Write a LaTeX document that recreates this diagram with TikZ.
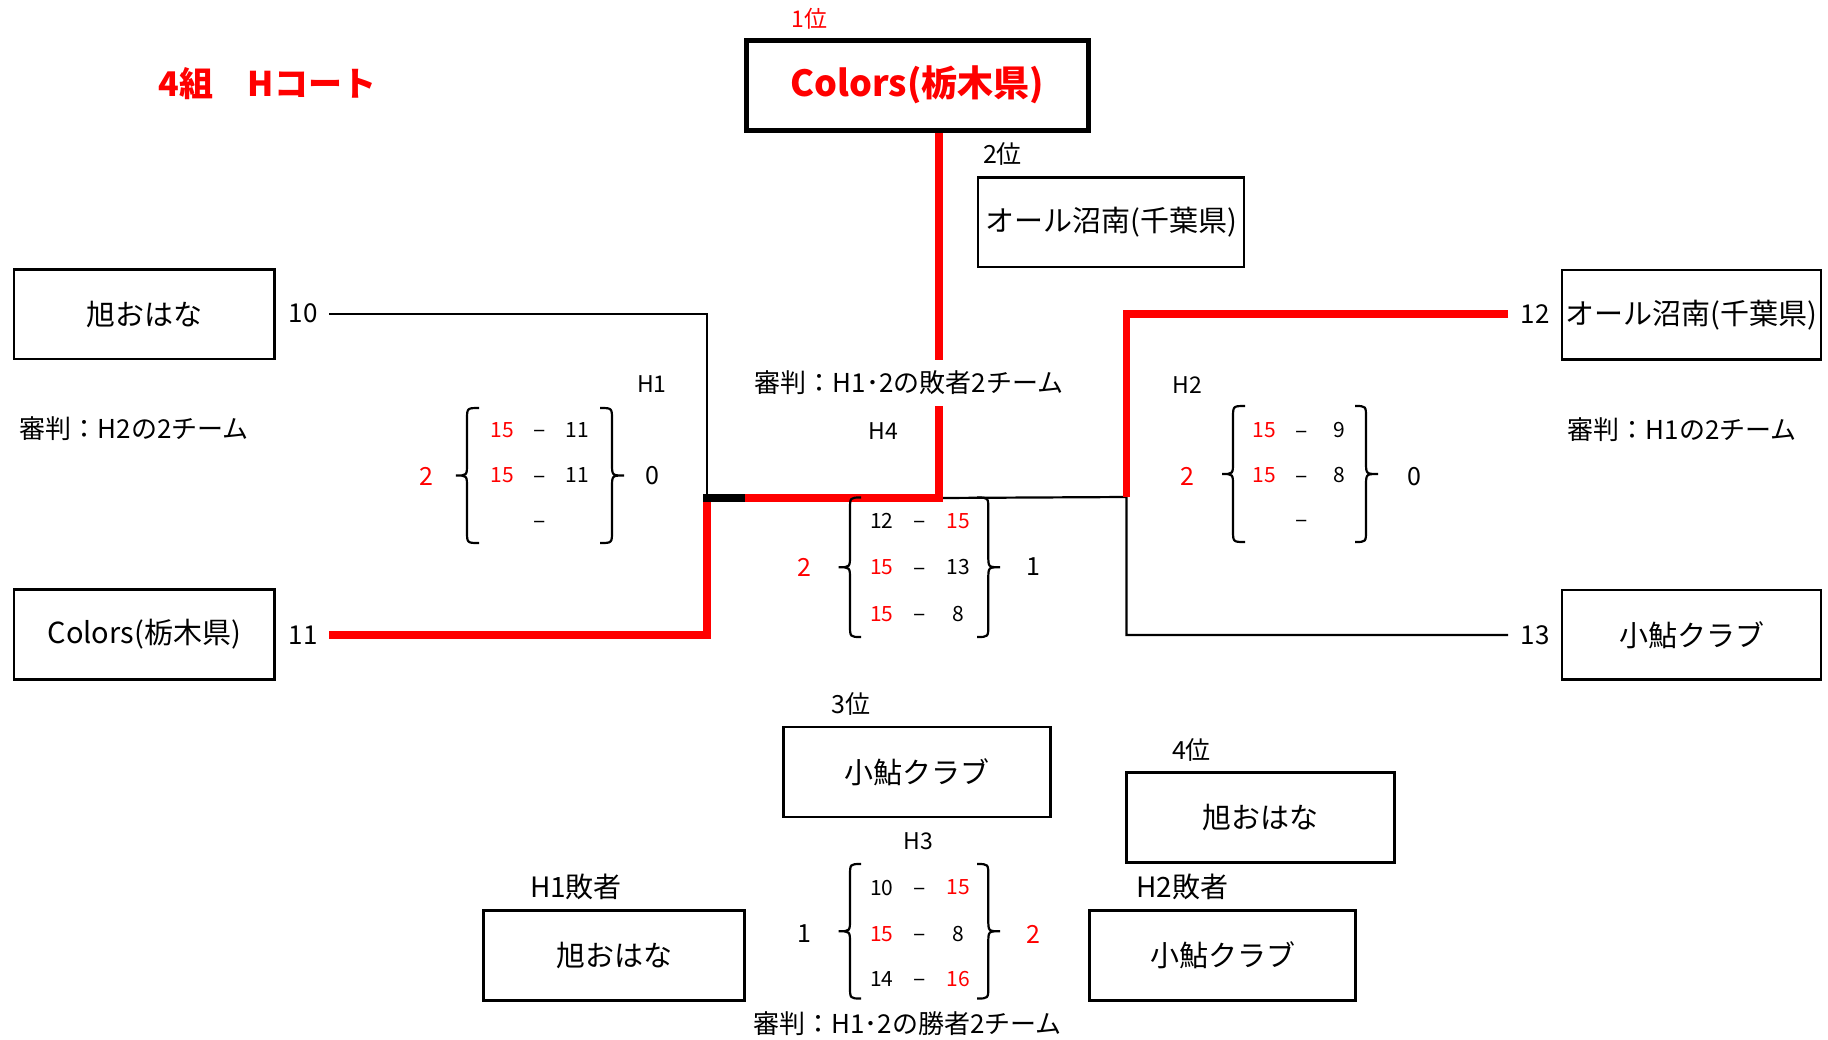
\documentclass[tikz,border=0pt]{standalone}
\usepackage{fontspec}
\setmainfont{Noto Sans CJK JP}
\newcommand\myFs[1]{\fontsize{#1}{#1}\selectfont}
\newcommand\myBrace[5]{%
  \draw[brc] (#3,#4) .. controls (#2,#4) .. (#2,{#4+12})
    -- (#2,{(#4+#5)/2-12}) .. controls (#2,{(#4+#5)/2}) .. (#1,{(#4+#5)/2})
    .. controls (#2,{(#4+#5)/2}) .. (#2,{(#4+#5)/2+12})
    -- (#2,{#5-12}) .. controls (#2,#5) .. (#3,#5);}
\begin{document}
\begin{tikzpicture}[x=1pt,y=-1pt,
  teambox/.style={draw, line width=2.5pt, inner sep=0pt, font=\myFs{29}},
  winbox/.style={draw, line width=5pt, inner sep=0pt, text=red, font=\myFs{36}\bfseries},
  lbl/.style={inner sep=0pt, font=\myFs{26}},
  rank/.style={inner sep=0pt, font=\myFs{25}},
  sc/.style={inner sep=0pt, font=\myFs{21}},
  scr/.style={sc, text=red},
  dsh/.style={inner sep=0pt, font=\myFs{23}, anchor=base, yshift=-7.7pt},
  mlbl/.style={inner sep=0pt, font=\myFs{23}},
  tot/.style={inner sep=0pt, font=\myFs{25}},
  totr/.style={tot, text=red},
  thinln/.style={line width=2.2pt, line join=miter},
  redln/.style={line width=7.5pt, red, line join=miter},
  blkthick/.style={line width=7.5pt, black},
  brc/.style={line width=2.2pt}
]
\useasboundingbox (0,0) rectangle (1828,1039);

% ---------- boxes ----------
\node[teambox, minimum width=260.5pt, minimum height=89.5pt] (b10) at (144.25,314.25) {旭おはな};
\node[teambox, minimum width=260.5pt, minimum height=90pt] (b11) at (144.25,634.5) {Colors(栃木県)};
\node[teambox, minimum width=259pt, minimum height=89.5pt] (b12) at (1691.5,314.75) {オール沼南(千葉県)};
\node[teambox, minimum width=259pt, minimum height=89.5pt] (b13) at (1691.5,634.75) {小鮎クラブ};
\node[winbox, minimum width=342.5pt, minimum height=90.5pt] (r1) at (917.25,85.25) {Colors(栃木県)};
\node[teambox, minimum width=266pt, minimum height=89.5pt] (r2) at (1111,222.25) {オール沼南(千葉県)};
\node[teambox, minimum width=266.8pt, minimum height=90pt] (r3) at (917.1,772) {小鮎クラブ};
\node[teambox, minimum width=268.4pt, minimum height=90pt] (r4) at (1260.5,817.35) {旭おはな};
\node[teambox, minimum width=260.7pt, minimum height=90pt] (l1) at (614,955.35) {旭おはな};
\node[teambox, minimum width=266.4pt, minimum height=90pt] (l2) at (1222.5,955.35) {小鮎クラブ};

% ---------- titles and labels ----------
\node[inner sep=0pt, text=red, font=\myFs{34}\bfseries] (title) at (267.5,83.5) {4組　Hコート};
\node[inner sep=0pt, text=red, font=\myFs{23}] (t1) at (809.5,18.5) {1位};
\node[rank] (t2) at (1002.5,154) {2位};
\node[rank] (t3) at (851,704) {3位};
\node[rank] (t4) at (1191.5,750) {4位};
\node[inner sep=0pt, font=\myFs{28}] (tl1) at (576,886.5) {H1敗者};
\node[inner sep=0pt, font=\myFs{28}] (tl2) at (1182.5,886.5) {H2敗者};

\node[lbl] (n10) at (303,313.5) {10};
\node[lbl] (n11) at (303,635) {11};
\node[lbl] (n12) at (1535,314) {12};
\node[lbl] (n13) at (1535,635) {13};

\node[mlbl] (mh1) at (652,384.5) {H1};
\node[mlbl] (mh2) at (1187,385) {H2};
\node[mlbl] (mh4) at (883,431) {H4};
\node[mlbl] (mh3) at (918,841) {H3};

\node[lbl, anchor=west] (ref1) at (19.6,429) {審判：H2の2チーム};
\node[lbl, anchor=west] (ref2) at (1567.6,429.5) {審判：H1の2チーム};
\node[lbl] (ref4b) at (907.5,1023.5) {審判：H1･2の勝者2チーム};

% ---------- connectors ----------
\coordinate (a10) at (329,314);
\coordinate (a11) at (329,635);
\coordinate (a12) at (1508,314);
\coordinate (a13) at (1508,635);
\coordinate (j1) at (707,498);
\coordinate (j1s) at (745,498);
\coordinate (j2) at (1126.5,497);
\coordinate (j4) at (939,498);
\coordinate (c1) at (939,133);

\draw[thinln] (a10) -| (j1);
\draw[redln] (a11) -| (j1);
\draw[thinln] (j4) -- (j2) |- (a13);
\draw[redln] (a12) -| (j2);
\draw[blkthick] (703.25,498) -- (j1s);
\draw[redln] (j1s) -| (c1);

\node[lbl, fill=white, inner xsep=0pt, minimum height=46pt] (ref4) at (909,382.5) {審判：H1･2の敗者2チーム};

% ---------- H1 ----------
\myBrace{456}{467}{479}{408}{543}
\myBrace{624}{612}{600}{408}{543}
\node[scr] (h1a) at (502.5,430) {15};
\node[dsh] (h1ad) at (540,430) {–};
\node[sc] (h1ab) at (577.5,430) {11};
\node[scr] (h1b) at (502.5,475.5) {15};
\node[dsh] (h1bd) at (540,475.5) {–};
\node[sc] (h1bb) at (577.5,475.5) {11};
\node[dsh] (h1cd) at (540,521) {–};
\node[totr] (h1l) at (426,476) {2};
\node[tot] (h1r) at (652,475.5) {0};

% ---------- H2 ----------
\myBrace{1222}{1233}{1245}{406}{542}
\myBrace{1378}{1366}{1355}{406}{542}
\node[scr] (h2a) at (1264,430.5) {15};
\node[dsh] (h2ad) at (1302,430.5) {–};
\node[sc] (h2ab) at (1339,430.5) {9};
\node[scr] (h2b) at (1264,475.5) {15};
\node[dsh] (h2bd) at (1302,475.5) {–};
\node[sc] (h2bb) at (1339,475.5) {8};
\node[dsh] (h2cd) at (1302,520) {–};
\node[totr] (h2l) at (1187.5,476) {2};
\node[tot] (h2r) at (1414.5,476.5) {0};

% ---------- H4 ----------
\myBrace{838.5}{850}{861}{497.5}{637}
\myBrace{1000}{988.3}{977}{497.5}{637}
\node[sc] (h4a) at (881.7,521) {12};
\node[dsh] (h4ad) at (920,521) {–};
\node[scr] (h4ab) at (958.5,521) {15};
\node[scr] (h4b) at (881.7,567.5) {15};
\node[dsh] (h4bd) at (920,567.5) {–};
\node[sc] (h4bb) at (958.5,567.5) {13};
\node[scr] (h4c) at (881.7,614) {15};
\node[dsh] (h4cd) at (920,614) {–};
\node[sc] (h4cb) at (958.5,614) {8};
\node[totr] (h4l) at (804.5,567) {2};
\node[tot] (h4r) at (1033,567) {1};

% ---------- H3 ----------
\myBrace{838.5}{850}{861}{864}{998.5}
\myBrace{1000}{988.3}{977}{864}{998.5}
\node[sc] (h3a) at (881.7,887.5) {10};
\node[dsh] (h3ad) at (920,887.5) {–};
\node[scr] (h3ab) at (958.5,887.5) {15};
\node[scr] (h3b) at (881.7,934) {15};
\node[dsh] (h3bd) at (920,934) {–};
\node[sc] (h3bb) at (958.5,934) {8};
\node[sc] (h3c) at (881.7,979) {14};
\node[dsh] (h3cd) at (920,979) {–};
\node[scr] (h3cb) at (958.5,979) {16};
\node[tot] (h3l) at (804.5,934) {1};
\node[totr] (h3r) at (1033,934) {2};
\end{tikzpicture}
\end{document}
